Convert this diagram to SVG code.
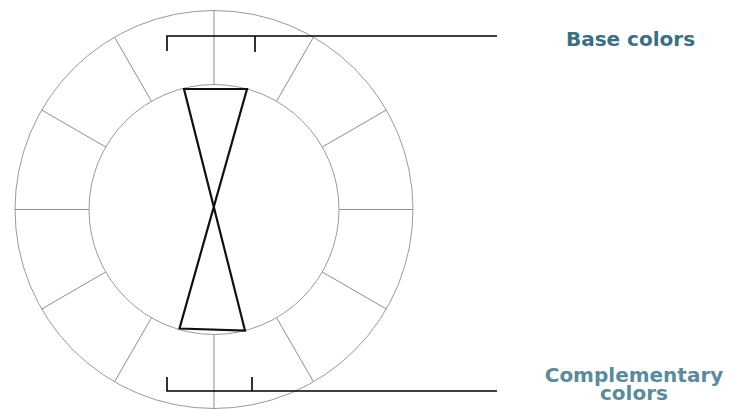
<svg xmlns="http://www.w3.org/2000/svg" width="729" height="410" viewBox="0 0 729 410">
<style>
.ring{fill:none;stroke:#9a9a9a;stroke-width:1}
.spoke{stroke:#8f8f8f;stroke-width:1}
.hg{fill:none;stroke:#111;stroke-width:2.2;stroke-linejoin:miter}
.br{fill:none;stroke:#000;stroke-width:1.6}
.lbl{font-family:"DejaVu Sans","Noto Sans",sans-serif;font-weight:bold;font-size:20px;text-anchor:middle}
</style>
<rect width="729" height="410" fill="#fff"/>
<g id="wheel">
<circle class="ring" cx="214" cy="209.5" r="199"/>
<circle class="ring" cx="214" cy="209.5" r="125"/>
<g id="spokes">
<line class="spoke" x1="214" y1="84.5" x2="214" y2="10.5"/>
<line class="spoke" x1="276.5" y1="101.3" x2="313.5" y2="37.2"/>
<line class="spoke" x1="322.3" y1="147" x2="386.3" y2="110"/>
<line class="spoke" x1="339" y1="209.5" x2="413" y2="209.5"/>
<line class="spoke" x1="322.3" y1="272" x2="386.3" y2="309"/>
<line class="spoke" x1="276.5" y1="317.7" x2="313.5" y2="381.8"/>
<line class="spoke" x1="214" y1="334.5" x2="214" y2="408.5"/>
<line class="spoke" x1="151.5" y1="317.7" x2="114.5" y2="381.8"/>
<line class="spoke" x1="105.7" y1="272" x2="41.7" y2="309"/>
<line class="spoke" x1="89" y1="209.5" x2="15" y2="209.5"/>
<line class="spoke" x1="105.7" y1="147" x2="41.7" y2="110"/>
<line class="spoke" x1="151.5" y1="101.3" x2="114.5" y2="37.2"/>
</g>
</g>
<g id="hourglass">
<path class="hg" d="M184,89 L247,89 L179.5,328.5 L245,330.5 Z"/>
</g>
<g id="connectors">
<path class="br" d="M167,51 V36 H497 M255,36 V52"/>
<path class="br" d="M167,377 V391 H497 M252,377 V391"/>
</g>
<g id="label-base">
<text class="lbl" x="630.5" y="45.5" fill="#3b6f81">Base colors</text>
</g>
<g id="label-complementary">
<text class="lbl" fill="#5b8b9b"><tspan x="634" y="382">Complementary</tspan><tspan x="634" y="399.5">colors</tspan></text>
</g>
</svg>
